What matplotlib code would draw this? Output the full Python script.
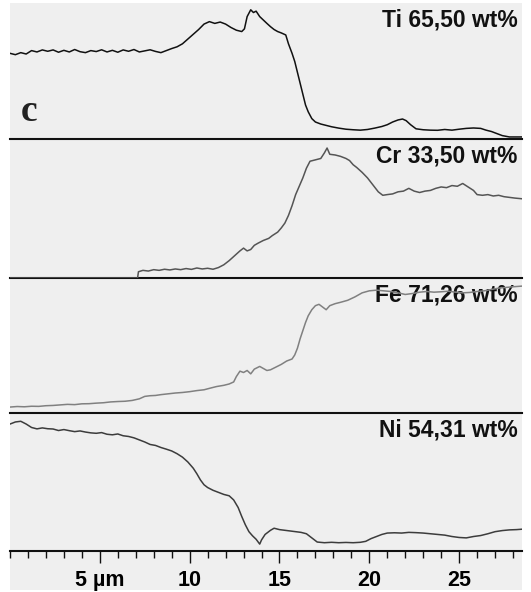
import matplotlib
matplotlib.use("Agg")
import matplotlib.pyplot as plt
from matplotlib.patches import Rectangle
from matplotlib.ticker import MultipleLocator, FixedLocator

# line scan profiles, intensity in % of panel height, position in um
ti_x = [0.0, 0.3, 0.6, 0.9, 1.2, 1.5, 1.8, 2.1, 2.4, 2.7, 3.0, 3.3, 3.6, 3.9, 4.2, 4.5, 4.8,
        5.1, 5.4, 5.7, 6.0, 6.3, 6.6, 6.9, 7.2, 7.5, 7.8, 8.1, 8.4, 8.7, 9.0, 9.3, 9.6, 9.9,
        10.2, 10.5, 10.8, 11.1, 11.4, 11.7, 12.0, 12.3, 12.6, 12.9, 13.05, 13.2, 13.4, 13.55,
        13.7, 13.9, 14.1, 14.3, 14.5, 14.7, 14.9, 15.1, 15.35, 15.5, 15.7, 15.85, 16.0, 16.15,
        16.3, 16.45, 16.6, 16.8, 17.0, 17.3, 17.6, 17.9, 18.3, 18.7, 19.1, 19.5, 19.9, 20.3,
        20.7, 21.0, 21.3, 21.6, 21.85, 22.05, 22.3, 22.6, 23.0, 23.4, 23.8, 24.2, 24.6, 25.0,
        25.4, 25.8, 26.2, 26.5, 26.8, 27.1, 27.4, 27.8, 28.5]
ti_y = [63.0, 62.0, 63.5, 62.5, 65.0, 64.0, 65.5, 64.5, 65.5, 63.8, 65.2, 64.0, 65.8, 64.2,
        63.5, 65.0, 64.3, 65.6, 64.0, 65.2, 63.8, 65.5, 64.5, 65.8, 64.0, 64.8, 65.6, 64.4,
        63.5, 65.0, 66.5, 67.8, 70.0, 73.5, 77.0, 80.5, 84.5, 86.3, 85.0, 86.0, 84.5, 82.0,
        80.0, 79.0, 81.0, 90.0, 95.0, 93.0, 94.0, 90.0, 87.5, 85.0, 82.6, 80.5, 79.0, 78.0,
        76.5, 70.0, 63.0, 57.0, 49.0, 41.0, 33.0, 25.0, 20.0, 15.0, 12.5, 11.0, 10.0, 9.0,
        8.0, 7.2, 6.8, 6.5, 7.0, 8.0, 9.2, 10.5, 12.5, 14.0, 14.7, 13.5, 10.5, 7.5, 6.8, 6.5,
        6.4, 7.0, 6.5, 7.2, 7.8, 8.1, 7.8, 6.5, 5.5, 4.0, 2.5, 1.5, 1.5]

cr_x = [0.0, 7.1, 7.15, 7.4, 7.7, 8.0, 8.3, 8.6, 8.9, 9.2, 9.5, 9.8, 10.1, 10.4, 10.7, 11.0,
        11.3, 11.6, 11.9, 12.2, 12.5, 12.8, 13.0, 13.2, 13.4, 13.6, 13.8, 14.1, 14.4, 14.6,
        14.9, 15.1, 15.3, 15.5, 15.7, 15.9, 16.1, 16.3, 16.5, 16.7, 17.0, 17.3, 17.5, 17.65,
        17.8, 18.1, 18.4, 18.7, 18.9, 19.1, 19.3, 19.6, 19.9, 20.2, 20.5, 20.75, 21.0, 21.3,
        21.6, 21.9, 22.2, 22.5, 22.8, 23.1, 23.4, 23.7, 24.0, 24.3, 24.6, 24.9, 25.2, 25.5,
        25.8, 26.0, 26.3, 26.6, 26.9, 27.2, 27.5, 27.8, 28.1, 28.5]
cr_y = [0, 0, 4.5, 5.5, 5.0, 6.0, 5.5, 6.3, 5.8, 6.5, 6.0, 6.8, 6.2, 7.2, 6.5, 7.0, 6.3, 7.5,
        9.5, 12.5, 16.0, 19.5, 21.5, 19.5, 20.5, 23.5, 25.0, 27.0, 28.5, 30.5, 33.0, 36.0,
        39.5, 45.0, 52.0, 60.0, 66.0, 72.0, 79.0, 84.0, 85.0, 86.0, 90.0, 93.5, 89.0, 88.5,
        87.5, 86.0, 84.5, 81.5, 79.5, 76.0, 72.0, 67.0, 62.0, 59.5, 60.0, 60.5, 62.0, 62.5,
        64.5, 62.5, 61.5, 62.5, 63.0, 64.5, 65.5, 65.0, 66.5, 66.0, 68.0, 65.5, 63.0, 60.0,
        59.5, 60.0, 59.0, 59.5, 58.5, 58.0, 57.5, 57.0]

fe_x = [0.0, 0.4, 0.8, 1.2, 1.6, 2.0, 2.4, 2.8, 3.2, 3.6, 4.0, 4.4, 4.8, 5.2, 5.6, 6.0, 6.4,
        6.8, 7.2, 7.5, 7.8, 8.1, 8.4, 8.8, 9.2, 9.6, 10.0, 10.4, 10.8, 11.2, 11.5, 11.9, 12.2,
        12.45, 12.6, 12.8, 13.0, 13.2, 13.4, 13.6, 13.9, 14.1, 14.3, 14.5, 14.8, 15.1, 15.4,
        15.7, 15.85, 16.0, 16.15, 16.3, 16.45, 16.6, 16.8, 17.0, 17.2, 17.45, 17.6, 17.8, 18.1,
        18.4, 18.8, 19.2, 19.6, 20.0, 20.4, 20.8, 21.2, 21.6, 22.0, 22.4, 22.8, 23.2, 23.6,
        24.0, 24.4, 24.8, 25.2, 25.6, 26.0, 26.4, 26.8, 27.2, 27.6, 28.0, 28.5]
fe_y = [4.4, 4.8, 4.6, 5.0, 4.9, 5.4, 5.6, 6.0, 6.4, 6.2, 6.8, 6.9, 7.3, 7.6, 8.2, 8.5, 8.7,
        9.3, 10.5, 12.3, 12.8, 13.0, 13.6, 14.2, 14.8, 15.2, 15.8, 16.6, 17.2, 18.6, 19.6,
        20.5, 21.5, 23.0, 27.0, 31.0, 30.0, 31.5, 29.0, 32.5, 34.5, 33.0, 31.5, 32.0, 34.0,
        36.0, 38.5, 40.0, 43.0, 48.0, 55.0, 61.0, 67.0, 72.0, 76.5, 79.5, 80.5, 78.0, 76.5,
        79.5, 81.0, 82.0, 83.5, 86.0, 89.0, 90.5, 91.0, 90.5, 90.0, 89.0, 87.8, 88.5, 89.5,
        90.0, 89.5, 89.8, 90.2, 89.5, 89.0, 89.3, 90.0, 90.5, 91.5, 92.5, 93.0, 93.5, 94.0]

ni_x = [0.0, 0.3, 0.6, 0.9, 1.2, 1.5, 1.8, 2.1, 2.4, 2.7, 3.0, 3.3, 3.6, 3.9, 4.2, 4.5, 4.8,
        5.1, 5.4, 5.7, 6.0, 6.3, 6.6, 6.9, 7.2, 7.5, 7.8, 8.1, 8.4, 8.7, 9.0, 9.3, 9.6, 9.9,
        10.2, 10.4, 10.6, 10.8, 11.0, 11.3, 11.6, 11.9, 12.2, 12.45, 12.7, 12.9, 13.1, 13.3,
        13.5, 13.7, 13.9, 14.0, 14.2, 14.5, 14.7, 15.0, 15.3, 15.6, 15.9, 16.2, 16.5, 16.8,
        17.1, 17.5, 17.9, 18.3, 18.7, 19.1, 19.5, 19.8, 20.1, 20.4, 20.7, 21.0, 21.4, 21.8,
        22.2, 22.6, 23.0, 23.4, 23.8, 24.2, 24.6, 25.0, 25.4, 25.8, 26.2, 26.6, 27.0, 27.4,
        27.8, 28.2, 28.5]
ni_y = [92.0, 93.5, 94.0, 92.0, 89.5, 88.5, 89.2, 88.6, 88.4, 87.3, 88.0, 87.2, 86.5, 87.0,
        86.2, 85.6, 85.3, 85.8, 84.6, 84.2, 84.8, 83.5, 83.0, 82.0, 80.5, 79.0, 77.2, 76.5,
        75.0, 73.8, 72.5, 70.5, 68.0, 64.5, 60.0, 56.0, 51.5, 48.0, 46.0, 44.0, 42.5, 41.0,
        40.0, 37.0, 31.5, 25.0, 19.0, 14.0, 11.0, 8.5, 5.0, 8.0, 12.0, 15.0, 16.5, 15.5, 15.0,
        14.5, 14.0, 13.5, 12.5, 9.5, 6.5, 6.0, 6.3, 6.0, 6.2, 6.0, 6.3, 7.0, 9.0, 10.5, 12.0,
        13.0, 13.2, 13.0, 13.5, 13.3, 13.0, 12.5, 12.0, 11.5, 10.5, 9.8, 9.5, 10.5, 11.2,
        12.5, 14.0, 14.8, 15.3, 15.5, 15.8]

labels = ["Ti 65,50 wt%", "Cr 33,50 wt%", "Fe 71,26 wt%", "Ni 54,31 wt%"]
colors = ["#111111", "#555555", "#808080", "#3c3c3c"]
series = [(ti_x, ti_y), (cr_x, cr_y), (fe_x, fe_y), (ni_x, ni_y)]

tick_pos = [5, 10, 15, 20, 25]
tick_lab = ["5 \u00b5m", "10", "15", "20", "25"]

W, H = 531, 592
fig = plt.figure(figsize=(W / 100, H / 100), dpi=100)
bg = Rectangle((10 / W, 2 / H), 512 / W, 587 / H, transform=fig.transFigure,
               facecolor="#efefef", edgecolor="none", zorder=-10)
fig.patches.append(bg)

# panel edges in pixels from the top
edges = [3, 139, 278, 413, 551]
font = ["Liberation Sans", "DejaVu Sans"]

for i in range(4):
    top, bot = edges[i], edges[i + 1]
    ax = fig.add_axes([10 / W, (H - bot) / H, 512 / W, (bot - top) / H])
    ax.set_zorder(5)
    ax.patch.set_visible(False)
    x, y = series[i]
    ax.plot(x, y, color=colors[i], lw=1.1, zorder=3)
    ax.set_xlim(0, 28.5)
    ax.set_ylim(0, 100)
    for s in ["top", "left", "right"]:
        ax.spines[s].set_visible(False)
    ax.spines["bottom"].set_linewidth(1.5)
    ax.spines["bottom"].set_color("#111111")
    ax.set_yticks([])
    ax.annotate(labels[i], xy=(1, 1), xycoords="axes fraction", xytext=(-3, -12.5),
                textcoords="offset points", ha="right", va="center", fontsize=16.5,
                fontweight="bold", family=font, color="#111111", zorder=1)
    if i < 3:
        ax.set_xticks([])
    else:
        ax.xaxis.set_major_locator(FixedLocator(tick_pos))
        ax.xaxis.set_minor_locator(MultipleLocator(1))
        ax.set_xticklabels(tick_lab, fontsize=15.5, fontweight="bold", family=font)
        ax.tick_params(axis="x", which="major", length=8.5, width=1, direction="out", pad=5,
                       color="#111111")
        ax.tick_params(axis="x", which="minor", length=5, width=1, direction="out",
                       color="#111111")
    if i == 0:
        ax.text(0.037, 0.2, "c", transform=ax.transAxes, fontsize=27, fontweight="bold",
                family=["Liberation Serif", "DejaVu Serif"], color="#222222",
                ha="center", va="center")

fig.savefig("out.png", dpi=100)
